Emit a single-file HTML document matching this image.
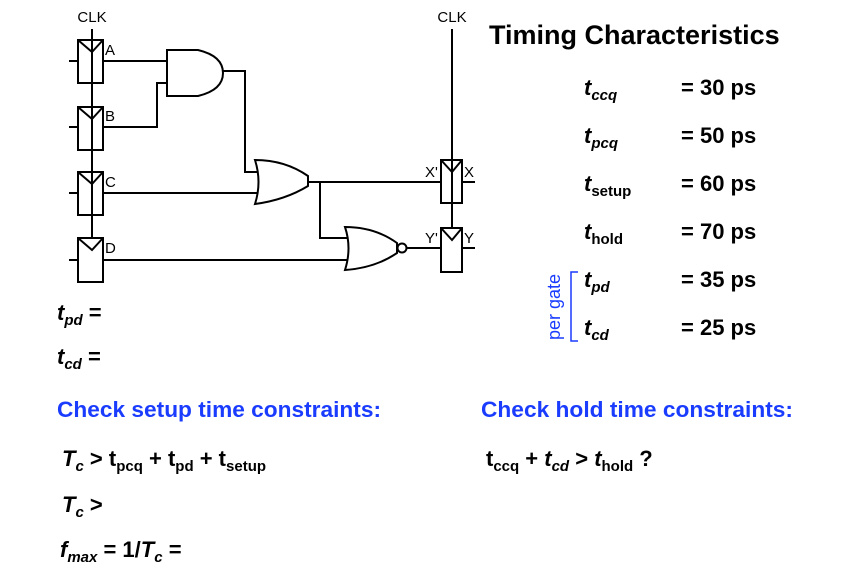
<!DOCTYPE html>
<html><head><style>
html,body{margin:0;padding:0;background:#fff;width:864px;height:578px;overflow:hidden}
svg{display:block}
.t{font-family:"Liberation Sans",Arial,sans-serif;font-weight:bold;font-size:22px;fill:#000}
.s{font-size:15px}
.l{font-family:"Liberation Sans",Arial,sans-serif;font-size:15px;fill:#000}
.b{fill:#1a3cff}
</style></head><body>
<svg width="864" height="578" viewBox="0 0 864 578">
<g stroke="#000" stroke-width="2" fill="none">
<line x1="92" y1="29" x2="92" y2="238"/>
<line x1="452" y1="29" x2="452" y2="228"/>
<rect x="78" y="40" width="25" height="43"/>
<rect x="78" y="107" width="25" height="43"/>
<rect x="78" y="172" width="25" height="43"/>
<rect x="78" y="238" width="25" height="44"/>
<polyline points="78,40 92,52 103,40"/>
<polyline points="78,107 92,119 103,107"/>
<polyline points="78,172 92,184 103,172"/>
<polyline points="78,238 92,250 103,238"/>
<line x1="69" y1="61" x2="78" y2="61"/>
<line x1="69" y1="127" x2="78" y2="127"/>
<line x1="69" y1="193" x2="78" y2="193"/>
<line x1="69" y1="260" x2="78" y2="260"/>
<rect x="441" y="160" width="21" height="43"/>
<rect x="441" y="228" width="21" height="44"/>
<polyline points="441,160 452,172 462,160"/>
<polyline points="441,228 452,240 462,228"/>
<line x1="462" y1="182" x2="475" y2="182"/>
<line x1="462" y1="248" x2="475" y2="248"/>
<path d="M167,50 L198,50 Q223,56 223,73 Q223,90 198,96 L167,96 Z"/>
<polyline points="103,61 167,61"/>
<polyline points="103,127 157,127 157,83 167,83"/>
<polyline points="223,71 245,71 245,172 258,172"/>
<path d="M255,160 Q285,160 308,176 L308,186 Q285,200 255,204 Q262,182 255,160 Z"/>
<polyline points="103,193 258,193"/>
<polyline points="308,182 441,182"/>
<polyline points="320,182 320,238 347,238"/>
<path d="M345,227 Q375,227 397,243 L397,253 Q375,268 345,270 Q352,248 345,227 Z"/>
<circle cx="402" cy="248" r="4.5"/>
<polyline points="406.5,248 441,248"/>
<polyline points="103,260 348,260"/>
<polyline points="578,272 571,272 571,341 578,341" stroke="#1a3cff" stroke-width="1.5"/>
</g>
<g class="l">
<text x="92" y="22" text-anchor="middle">CLK</text>
<text x="452" y="22" text-anchor="middle">CLK</text>
<text x="105" y="55">A</text>
<text x="105" y="121">B</text>
<text x="105" y="187">C</text>
<text x="105" y="253">D</text>
<text x="425" y="177">X'</text>
<text x="464" y="177">X</text>
<text x="425" y="243">Y'</text>
<text x="464" y="243">Y</text>
</g>
<text x="489" y="44" class="t" style="font-size:27px">Timing Characteristics</text>
<g class="t">
<text x="584" y="95"><tspan font-style="italic">t</tspan><tspan class="s" dy="5" font-style="italic">ccq</tspan></text>
<text x="584" y="143"><tspan font-style="italic">t</tspan><tspan class="s" dy="5" font-style="italic">pcq</tspan></text>
<text x="584" y="191"><tspan font-style="italic">t</tspan><tspan class="s" dy="5">setup</tspan></text>
<text x="584" y="239"><tspan font-style="italic">t</tspan><tspan class="s" dy="5">hold</tspan></text>
<text x="584" y="287"><tspan font-style="italic">t</tspan><tspan class="s" dy="5" font-style="italic">pd</tspan></text>
<text x="584" y="335"><tspan font-style="italic">t</tspan><tspan class="s" dy="5" font-style="italic">cd</tspan></text>
<text x="681" y="95">= 30 ps</text>
<text x="681" y="143">= 50 ps</text>
<text x="681" y="191">= 60 ps</text>
<text x="681" y="239">= 70 ps</text>
<text x="681" y="287">= 35 ps</text>
<text x="681" y="335">= 25 ps</text>

<text x="57" y="320"><tspan font-style="italic">t</tspan><tspan class="s" dy="5" font-style="italic">pd</tspan><tspan dy="-5"> =</tspan></text>
<text x="57" y="364"><tspan font-style="italic">t</tspan><tspan class="s" dy="5" font-style="italic">cd</tspan><tspan dy="-5"> =</tspan></text>
<text x="57" y="417" class="t b" textLength="324" lengthAdjust="spacingAndGlyphs">Check setup time constraints:</text>
<text x="481" y="417" class="t b" textLength="312" lengthAdjust="spacingAndGlyphs">Check hold time constraints:</text>
<text x="62" y="466"><tspan font-style="italic">T</tspan><tspan class="s" dy="5" font-style="italic">c</tspan><tspan dy="-5"> &gt; t</tspan><tspan class="s" dy="5">pcq</tspan><tspan dy="-5"> + t</tspan><tspan class="s" dy="5">pd</tspan><tspan dy="-5"> + t</tspan><tspan class="s" dy="5">setup</tspan></text>
<text x="62" y="512"><tspan font-style="italic">T</tspan><tspan class="s" dy="5" font-style="italic">c</tspan><tspan dy="-5"> &gt;</tspan></text>
<text x="60" y="557"><tspan font-style="italic">f</tspan><tspan class="s" dy="5" font-style="italic">max</tspan><tspan dy="-5"> = 1/</tspan><tspan font-style="italic">T</tspan><tspan class="s" dy="5" font-style="italic">c</tspan><tspan dy="-5"> =</tspan></text>
<text x="486" y="466"><tspan>t</tspan><tspan class="s" dy="5">ccq</tspan><tspan dy="-5"> + </tspan><tspan font-style="italic">t</tspan><tspan class="s" dy="5" font-style="italic">cd</tspan><tspan dy="-5"> &gt; </tspan><tspan font-style="italic">t</tspan><tspan class="s" dy="5">hold</tspan><tspan dy="-5"> ?</tspan></text>
</g>
<text transform="translate(560,307) rotate(-90)" text-anchor="middle" font-family="Liberation Sans,Arial,sans-serif" font-size="18" fill="#1a3cff">per gate</text>
</svg>
</body></html>
